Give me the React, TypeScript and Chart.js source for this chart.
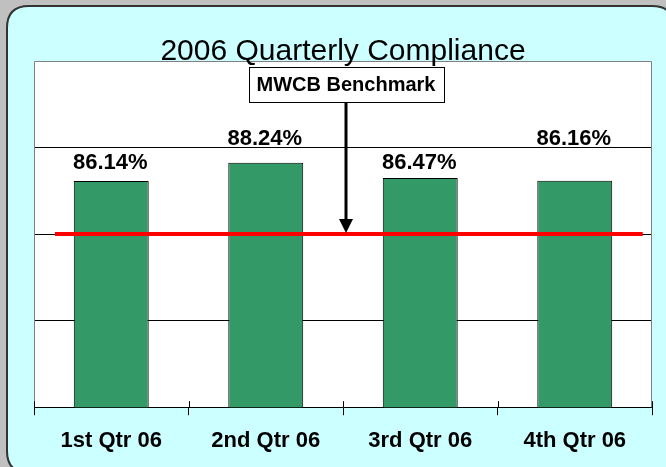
import React, { useEffect, useRef } from "react";
import { Chart, registerables } from "chart.js";

Chart.register(...registerables);

const categories = ["1st Qtr 06", "2nd Qtr 06", "3rd Qtr 06", "4th Qtr 06"];
const compliance = [86.14, 88.24, 86.47, 86.16];
const valueLabels = ["86.14%", "88.24%", "86.47%", "86.16%"];
const labelAt = [88.2, 91.0, 88.2, 91.0];
const benchmark = 80;
const benchmarkLabel = "MWCB Benchmark";
const chartTitle = "2006 Quarterly Compliance";
const yMin = 60;
const yMax = 100;
const yStep = 10;

const FONT = "'Liberation Sans', Arial, sans-serif";

const decor = {
  id: "decor",
  beforeDraw(chart: any) {
    const { ctx, width, height, chartArea } = chart;
    ctx.save();
    ctx.fillStyle = "#c0c0c0";
    ctx.fillRect(0, 0, width, height);
    const x0 = 7, y0 = 6, x1 = width + 8, y1 = height + 6, r = 22;
    ctx.beginPath();
    ctx.moveTo(x0 + r, y0);
    ctx.lineTo(x1 - r, y0);
    ctx.quadraticCurveTo(x1, y0, x1, y0 + r);
    ctx.lineTo(x1, y1 - r);
    ctx.quadraticCurveTo(x1, y1, x1 - r, y1);
    ctx.lineTo(x0 + r, y1);
    ctx.quadraticCurveTo(x0, y1, x0, y1 - r);
    ctx.lineTo(x0, y0 + r);
    ctx.quadraticCurveTo(x0, y0, x0 + r, y0);
    ctx.closePath();
    ctx.fillStyle = "#ccffff";
    ctx.fill();
    ctx.lineWidth = 2;
    ctx.strokeStyle = "#333333";
    ctx.stroke();
    ctx.fillStyle = "#ffffff";
    ctx.fillRect(chartArea.left, chartArea.top, chartArea.right - chartArea.left, chartArea.bottom - chartArea.top);
    ctx.restore();
  },
  afterDatasetsDraw(chart: any) {
    const { ctx, chartArea, scales } = chart;
    const x = scales.x;
    const y = scales.y;
    const catW = (chartArea.right - chartArea.left) / categories.length;
    ctx.save();
    const by = y.getPixelForValue(benchmark);
    ctx.strokeStyle = "#ff0000";
    ctx.lineWidth = 4;
    ctx.beginPath();
    ctx.moveTo(chartArea.left + catW * 0.136, by);
    ctx.lineTo(chartArea.right - catW * 0.06, by);
    ctx.stroke();

    ctx.fillStyle = "#000000";
    ctx.font = `bold 22px ${FONT}`;
    ctx.textAlign = "center";
    ctx.textBaseline = "middle";
    compliance.forEach((v, i) => {
      ctx.fillText(valueLabels[i], x.getPixelForValue(i) - 1, y.getPixelForValue(labelAt[i]));
    });

    ctx.strokeStyle = "#808080";
    ctx.lineWidth = 1;
    ctx.beginPath();
    ctx.moveTo(chartArea.left + 0.5, chartArea.bottom);
    ctx.lineTo(chartArea.left + 0.5, chartArea.top + 0.5);
    ctx.lineTo(chartArea.right - 0.5, chartArea.top + 0.5);
    ctx.lineTo(chartArea.right - 0.5, chartArea.bottom);
    ctx.stroke();

    ctx.strokeStyle = "#000000";
    for (let i = 0; i <= categories.length; i++) {
      const tx = Math.round(chartArea.left + catW * i) + 0.5;
      ctx.beginPath();
      ctx.moveTo(tx, chartArea.bottom - 6);
      ctx.lineTo(tx, chartArea.bottom);
      ctx.stroke();
    }

    const cx = (chartArea.left + chartArea.right) / 2 + 3;
    const bw = 195, bh = 35, bt = chartArea.top + 6;
    ctx.lineWidth = 3;
    ctx.beginPath();
    ctx.moveTo(cx, bt + bh);
    ctx.lineTo(cx, by - 12);
    ctx.stroke();
    ctx.beginPath();
    ctx.moveTo(cx - 7, by - 15);
    ctx.lineTo(cx + 7, by - 15);
    ctx.lineTo(cx, by - 1);
    ctx.closePath();
    ctx.fillStyle = "#000000";
    ctx.fill();

    ctx.fillStyle = "#ffffff";
    ctx.fillRect(cx - bw / 2, bt, bw, bh);
    ctx.lineWidth = 1;
    ctx.strokeStyle = "#000000";
    ctx.strokeRect(Math.round(cx - bw / 2) + 0.5, bt + 0.5, bw, bh);
    ctx.fillStyle = "#000000";
    ctx.font = `bold 20px ${FONT}`;
    ctx.fillText(benchmarkLabel, cx, bt + bh / 2 + 1);

    ctx.font = `30px ${FONT}`;
    ctx.textBaseline = "alphabetic";
    ctx.fillText(chartTitle, (chartArea.left + chartArea.right) / 2, chartArea.top - 1);
    ctx.restore();
  },
};

export default function App() {
  const ref = useRef<HTMLCanvasElement>(null);
  useEffect(() => {
    document.body.style.margin = "0";
    const chart = new Chart(ref.current!, {
      type: "bar",
      data: {
        labels: categories,
        datasets: [
          {
            data: compliance,
            backgroundColor: "#339966",
            borderColor: "#000000",
            borderWidth: 1,
            categoryPercentage: 1,
            barPercentage: 0.485,
          },
        ],
      },
      options: {
        animation: false,
        responsive: false,
        layout: { padding: { left: 34, right: 14, top: 61, bottom: 0 } },
        plugins: { legend: { display: false }, tooltip: { enabled: false }, title: { display: false } },
        scales: {
          x: {
            offset: true,
            grid: { offset: true, drawOnChartArea: false, tickLength: 8, color: "#000000" },
            border: { color: "#000000", width: 1 },
            ticks: { color: "#000000", padding: 16, font: { family: FONT, size: 22, weight: "bold", lineHeight: 0.9 } },
          },
          y: {
            min: yMin,
            max: yMax,
            ticks: { display: false, stepSize: yStep },
            border: { display: false },
            grid: {
              drawTicks: false,
              color: (c: any) => (c.tick && c.tick.value > yMin && c.tick.value < yMax ? "#000000" : "rgba(0,0,0,0)"),
            },
          },
        },
      },
      plugins: [decor],
    });
    return () => chart.destroy();
  }, []);
  return (
    <div style={{ width: 666, height: 467 }}>
      <canvas ref={ref} width={666} height={467} style={{ display: "block" }} />
    </div>
  );
}
